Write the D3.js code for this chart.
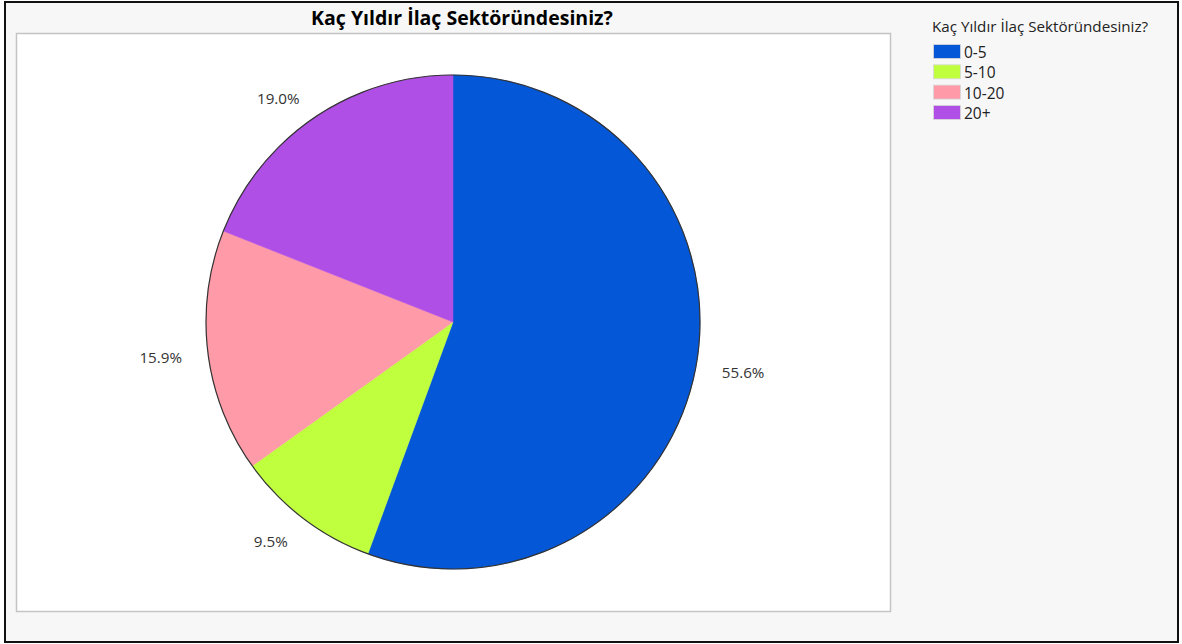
<!DOCTYPE html>
<html>
<head>
<meta charset="utf-8">
<script src="https://cdn.jsdelivr.net/npm/d3@7"></script>
<style>
  html, body { margin: 0; padding: 0; background: #ffffff; }
  svg { display: block; }
  text { font-family: "Open Sans", "Noto Sans", sans-serif; }
</style>
</head>
<body>
<svg id="chart" width="1182" height="644"></svg>
<script>
const chartTitle = "Kaç Yıldır İlaç Sektöründesiniz?";
const categories = ["0-5", "5-10", "10-20", "20+"];
const values = [55.6, 9.5, 15.9, 19.0];
const colors = ["#0457d6", "#c0ff3e", "#ff9aa8", "#b04fe6"];

const svg = d3.select("#chart");
const W = 1182, H = 644;

// Outer background and frame
svg.append("rect").attr("x", 0).attr("y", 0).attr("width", W).attr("height", H).attr("fill", "#ffffff");
svg.append("rect").attr("x", 5).attr("y", 2).attr("width", 1173).attr("height", 640)
  .attr("fill", "#f7f7f7").attr("stroke", "#111").attr("stroke-width", 2);

// Plot area
svg.append("rect").attr("x", 16.5).attr("y", 33.5).attr("width", 874).attr("height", 578)
  .attr("fill", "#ffffff").attr("stroke", "#c4c4c4").attr("stroke-width", 1.5);

// Title
svg.append("text").attr("x", 462).attr("y", 25).attr("text-anchor", "middle")
  .attr("font-size", 19.5).attr("font-weight", "bold").attr("fill", "#000")
  .text(chartTitle);

// Pie
const cx = 453, cy = 322, R = 247;
const data = categories.map((c, i) => ({ cat: c, value: values[i], color: colors[i] }));
const pie = d3.pie().value(d => d.value).sort(null);
const arcs = pie(data);
const arc = d3.arc().innerRadius(0).outerRadius(R);

const g = svg.append("g").attr("transform", `translate(${cx},${cy})`);
g.selectAll("path.slice").data(arcs).enter().append("path")
  .attr("class", "slice")
  .attr("d", arc)
  .attr("fill", d => d.data.color)
  .attr("stroke", d => d.data.color)
  .attr("stroke-width", 0.5);
g.append("circle").attr("r", R).attr("fill", "none").attr("stroke", "#333").attr("stroke-width", 1.2);

// Labels
const total = d3.sum(values);
const labelR = R + 26;
arcs.forEach(a => {
  const th = (a.startAngle + a.endAngle) / 2;
  const s = Math.sin(th), c = Math.cos(th);
  const t = g.append("text")
    .attr("font-size", 15.2).attr("fill", "#333")
    .attr("text-anchor", "middle").attr("dominant-baseline", "central")
    .text((a.data.value / total * 100).toFixed(1) + "%");
  const bb = t.node().getBBox();
  const px = labelR * s + (bb.width / 2) * Math.sign(s);
  const py = -labelR * c + 2;
  t.attr("x", px).attr("y", py);
});

// Legend
const lg = svg.append("g");
lg.append("text").attr("x", 932).attr("y", 32).attr("font-size", 15.2).attr("fill", "#222")
  .text(chartTitle);
const rowH = 20.3;
data.forEach((d, i) => {
  const y = 44.5 + i * rowH;
  lg.append("rect").attr("x", 933.5).attr("y", y).attr("width", 27).attr("height", 14)
    .attr("fill", d.color).attr("stroke", "#d8d8d8").attr("stroke-width", 0.8);
  lg.append("text").attr("x", 964).attr("y", y + 7.5).attr("dominant-baseline", "central")
    .attr("font-size", 15.5).attr("fill", "#222").text(d.cat);
});
</script>
</body>
</html>
